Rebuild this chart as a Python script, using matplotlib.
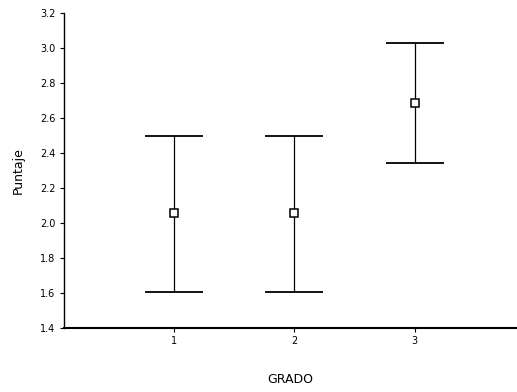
import matplotlib
matplotlib.use("Agg")
import matplotlib.pyplot as plt
import numpy as np

grados = [1, 2, 3]
means = [2.057, 2.057, 2.686]
upper = [2.50, 2.50, 3.03]
lower = [1.606, 1.606, 2.343]
yticks = [1.4, 1.6, 1.8, 2.0, 2.2, 2.4, 2.6, 2.8, 3.0, 3.2]
xticklabels = ["1", "2", "3"]

fig = plt.figure(figsize=(5.17, 3.92), dpi=100)
ax = fig.add_axes([64/517, 1-328/392, 1-64/517, (328-13)/392])

m = np.array(means)
yerr = [m - np.array(lower), np.array(upper) - m]
ax.errorbar(grados, means, yerr=yerr, fmt='none', ecolor='black',
            elinewidth=0.9, capsize=21, capthick=1.3)
ax.plot(grados, means, linestyle='none', marker='s', markersize=5.5,
        markerfacecolor='white', markeredgecolor='black', markeredgewidth=1.1, zorder=3)

ax.set_xlim(0.09, 3.85)
ax.set_ylim(1.4, 3.2)
ax.set_yticks(yticks)
ax.set_yticklabels([f"{v:.1f}" for v in yticks])
ax.set_xticks(grados)
ax.set_xticklabels(xticklabels)
ax.tick_params(axis='both', labelsize=7, length=3, width=0.8, direction='out', pad=3)
for s in ['top', 'right']:
    ax.spines[s].set_visible(False)
ax.spines['left'].set_linewidth(1.0)
ax.spines['bottom'].set_linewidth(1.5)

ax.set_ylabel("Puntaje", fontsize=9, labelpad=11)
ax.set_xlabel("GRADO", fontsize=9, labelpad=19)

fig.savefig("out.png", dpi=100)
